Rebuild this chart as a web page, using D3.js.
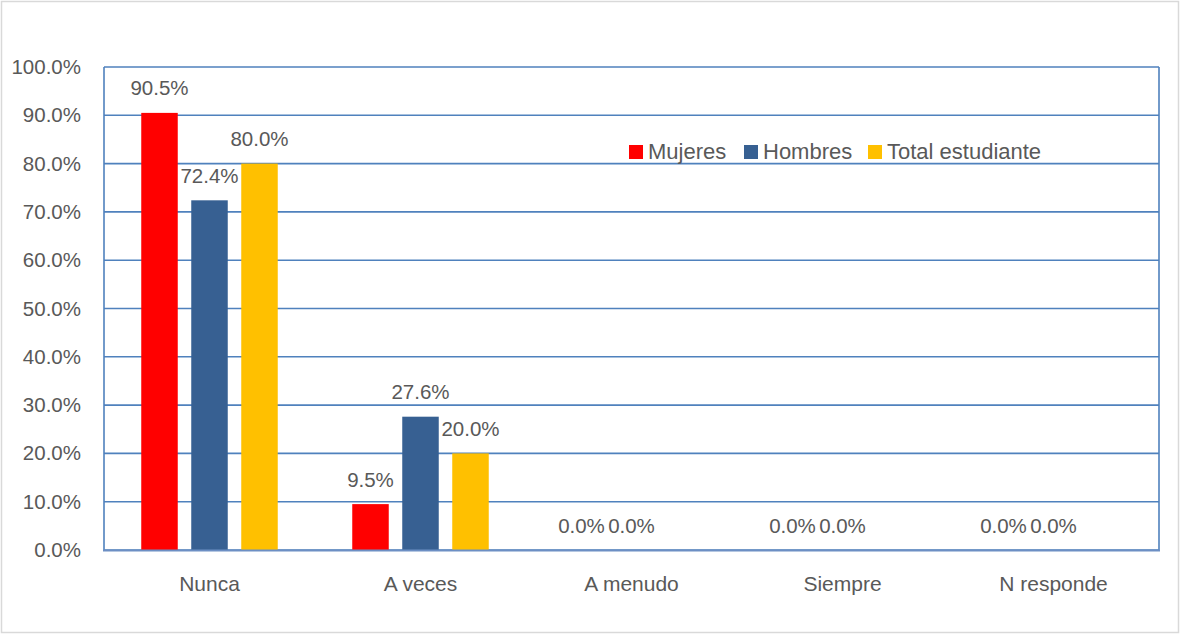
<!DOCTYPE html>
<html>
<head>
<meta charset="utf-8">
<script src="https://cdn.jsdelivr.net/npm/d3@7"></script>
<style>
  html, body { margin: 0; padding: 0; background: #fff; }
  svg { display: block; }
  text { font-family: "Liberation Sans", Arial, sans-serif; fill: #595959; }
</style>
</head>
<body>
<div id="chart"></div>
<script>
const categories = ["Nunca", "A veces", "A menudo", "Siempre", "N responde"];
const seriesNames = ["Mujeres", "Hombres", "Total estudiante"];
const mujeres = [0.905, 0.095, 0.0, 0.0, 0.0];
const hombres = [0.724, 0.276, 0.0, 0.0, 0.0];
const total = [0.80, 0.20, null, null, null];
const colors = ["#ff0000", "#376092", "#ffc000"];
const yTicks = [0, 0.1, 0.2, 0.3, 0.4, 0.5, 0.6, 0.7, 0.8, 0.9, 1.0];

const W = 1180, H = 634;
const plot = { left: 104, right: 1159, top: 67, bottom: 550 };

const svg = d3.select("#chart").append("svg").attr("width", W).attr("height", H);

// outer frame
svg.append("rect").attr("x", 1.5).attr("y", 1.5).attr("width", W - 3).attr("height", H - 3)
  .attr("fill", "#fff").attr("stroke", "#d9d9d9").attr("stroke-width", 1.5);

const x = d3.scaleBand().domain(categories).range([plot.left, plot.right]).padding(0);
const bw = x.bandwidth();
const xSub = d3.scaleBand().domain(seriesNames).range([bw / 2 - 75, bw / 2 + 75])
  .paddingInner(0.27).paddingOuter(0.135);
const y = d3.scaleLinear().domain([0, 1]).range([plot.bottom, plot.top]);

// gridlines
svg.append("g").selectAll("line").data(yTicks).join("line")
  .attr("x1", plot.left).attr("x2", plot.right)
  .attr("y1", d => y(d)).attr("y2", d => y(d))
  .attr("stroke", "#4f81bd").attr("stroke-width", 1.6);

// plot borders (left / right)
svg.append("line").attr("x1", plot.left).attr("x2", plot.left).attr("y1", plot.top).attr("y2", plot.bottom)
  .attr("stroke", "#4f81bd").attr("stroke-width", 1.6);
svg.append("line").attr("x1", plot.right).attr("x2", plot.right).attr("y1", plot.top).attr("y2", plot.bottom)
  .attr("stroke", "#4f81bd").attr("stroke-width", 1.6);

// y axis labels
const yAxis = d3.axisLeft(y).tickValues(yTicks).tickFormat(d3.format(".1%")).tickSize(0).tickPadding(0);
const gy = svg.append("g").attr("transform", `translate(81,0)`).call(yAxis);
gy.select(".domain").remove();
gy.selectAll("text").attr("font-size", "20.5px").attr("fill", "#595959")
  .attr("font-family", "Liberation Sans, Arial, sans-serif");

// bars
const seriesData = [mujeres, hombres, total];
const rows = [];
seriesData.forEach((arr, si) => {
  arr.forEach((v, ci) => rows.push({ s: seriesNames[si], si, c: categories[ci], v }));
});
const valid = rows.filter(d => d.v !== null);

svg.append("g").selectAll("rect").data(valid).join("rect")
  .attr("x", d => x(d.c) + xSub(d.s))
  .attr("width", xSub.bandwidth())
  .attr("y", d => y(d.v))
  .attr("height", d => y(0) - y(d.v))
  .attr("fill", d => colors[d.si]);

// bottom axis line
svg.append("line").attr("x1", plot.left - 1).attr("x2", plot.right + 1).attr("y1", plot.bottom + 0.5).attr("y2", plot.bottom + 0.5)
  .attr("stroke", "#6d8fc4").attr("stroke-width", 2);

// x axis labels
const xAxis = d3.axisBottom(x).tickSize(0).tickPadding(0);
const gx = svg.append("g").attr("transform", `translate(0,${plot.bottom})`).call(xAxis);
gx.select(".domain").remove();
gx.selectAll("text").attr("font-size", "21px").attr("fill", "#595959")
  .attr("font-family", "Liberation Sans, Arial, sans-serif")
  .attr("dy", null).attr("y", 41);

// value labels
svg.append("g").selectAll("text").data(valid).join("text")
  .attr("x", d => x(d.c) + xSub(d.s) + xSub.bandwidth() / 2)
  .attr("y", d => y(d.v) - 17.5)
  .attr("text-anchor", "middle")
  .attr("font-size", "20.5px")
  .text(d => d3.format(".1%")(d.v));

// legend
const legendX = [629, 744, 868];
const lg = svg.append("g");
seriesNames.forEach((n, i) => {
  lg.append("rect").attr("x", legendX[i]).attr("y", 145).attr("width", 14).attr("height", 14).attr("fill", colors[i]);
  lg.append("text").attr("x", legendX[i] + 19).attr("y", 159).attr("font-size", "22px").text(n);
});
</script>
</body>
</html>
